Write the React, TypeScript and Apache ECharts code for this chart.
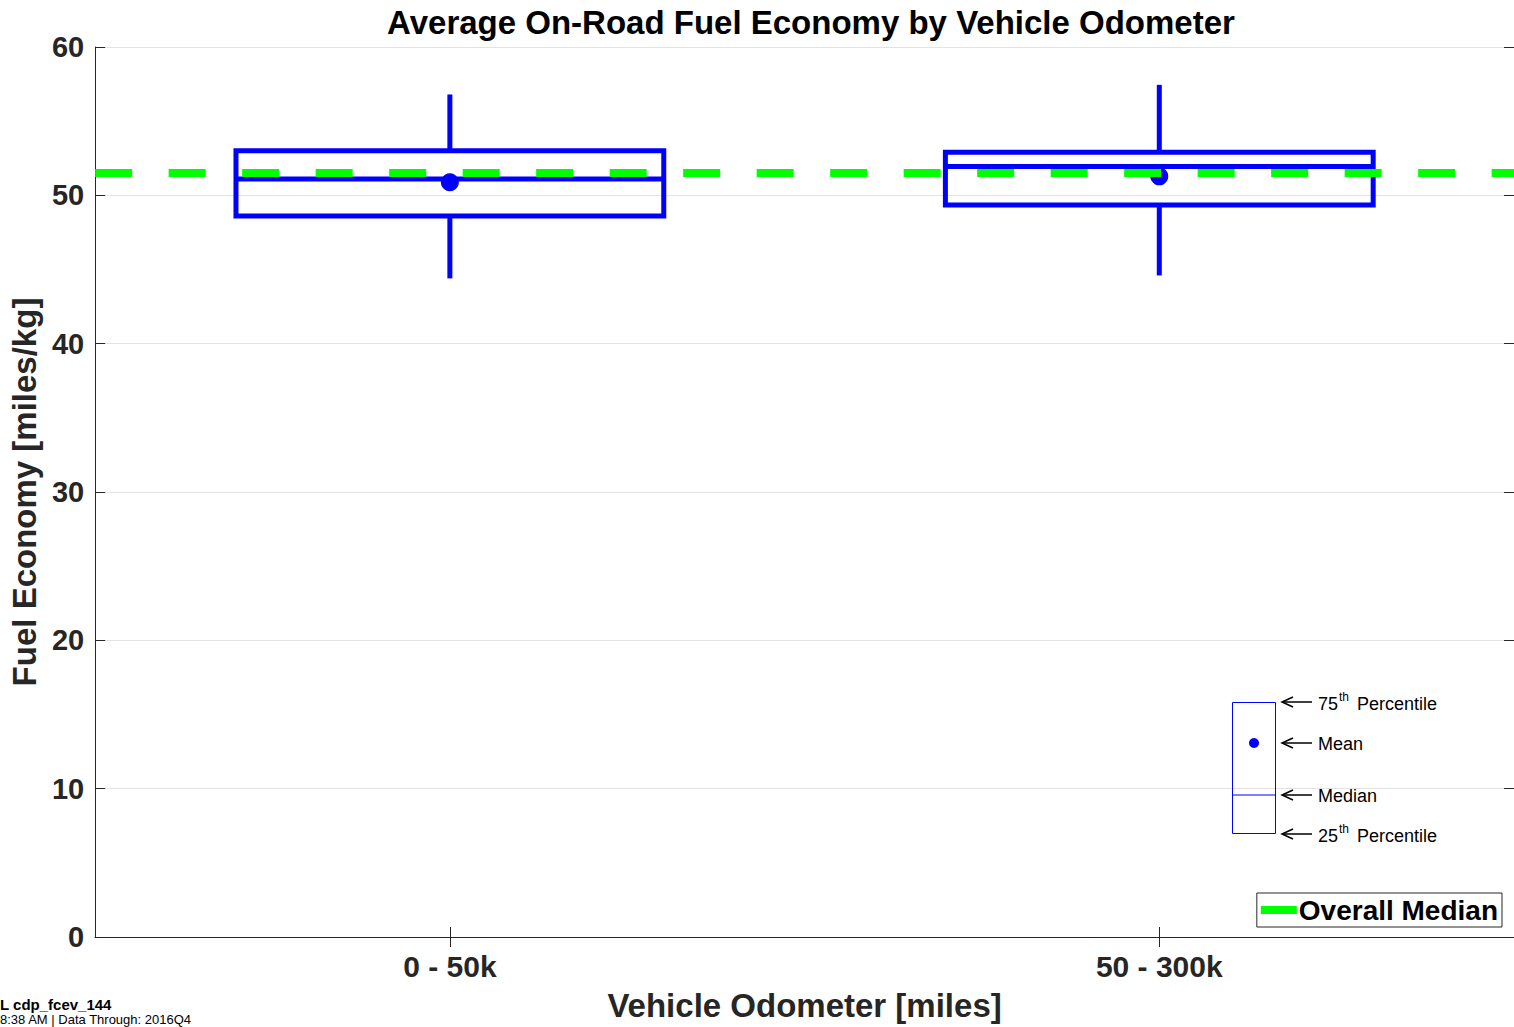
import React, { useEffect, useRef } from "react";
import * as echarts from "echarts";

const categories = ["0 - 50k", "50 - 300k"];
const whiskerLow = [44.4, 44.6];
const q1 = [48.6, 49.35];
const median = [51.1, 51.95];
const q3 = [53.0, 52.9];
const whiskerHigh = [56.8, 57.45];
const means = [50.88, 51.28];
const overallMedian = 51.55;
const yTicks = { min: 0, max: 60, interval: 10 };

const FONT = "'Liberation Sans', Arial, Helvetica, sans-serif";
const BLUE = "#0000ff";
const GREEN = "#00ff00";
const AXIS = "#262626";

export default function App() {
  const ref = useRef<HTMLDivElement>(null);
  useEffect(() => {
    if (!ref.current) return;
    const chart = echarts.init(ref.current, undefined, { renderer: "svg" });

    const boxData = categories.map((_, i) => [i, whiskerLow[i], q1[i], median[i], q3[i], whiskerHigh[i]]);
    const meanData = categories.map((_, i) => [i, means[i]]);

    const keyTexts = [
      { y: 704, main: "75", sup: "th", rest: "Percentile" },
      { y: 744, main: "Mean" },
      { y: 796, main: "Median" },
      { y: 836, main: "25", sup: "th", rest: "Percentile" },
    ];
    const arrowYs = [702, 743, 795, 834];

    const graphics: any[] = [
      { type: "rect", shape: { x: 1232.5, y: 702.5, width: 43, height: 131 }, style: { fill: "none", stroke: BLUE, lineWidth: 1 }, z: 10 },
      { type: "line", shape: { x1: 1232.5, y1: 795, x2: 1275.5, y2: 795 }, style: { stroke: BLUE, lineWidth: 1 }, z: 10 },
      { type: "circle", shape: { cx: 1254, cy: 743, r: 5 }, style: { fill: BLUE }, z: 10 },
    ];
    arrowYs.forEach((y) => {
      graphics.push({ type: "line", shape: { x1: 1283, y1: y, x2: 1312, y2: y }, style: { stroke: "#000", lineWidth: 1.5 }, z: 10 });
      graphics.push({ type: "polyline", shape: { points: [[1293, y - 5], [1282, y], [1293, y + 5]] }, style: { stroke: "#000", lineWidth: 1.5, fill: "none" }, z: 10 });
    });
    keyTexts.forEach((t) => {
      graphics.push({ type: "text", x: 1318, y: t.y, style: { text: t.main, font: `18px ${FONT}`, fill: "#000", verticalAlign: "middle" }, z: 10 });
      if (t.sup) {
        graphics.push({ type: "text", x: 1339, y: t.y - 7, style: { text: t.sup, font: `12px ${FONT}`, fill: "#000", verticalAlign: "middle" }, z: 10 });
        graphics.push({ type: "text", x: 1357, y: t.y, style: { text: t.rest, font: `18px ${FONT}`, fill: "#000", verticalAlign: "middle" }, z: 10 });
      }
    });
    graphics.push({ type: "text", x: 0, y: 997, style: { text: "L cdp_fcev_144", font: `bold 15px ${FONT}`, fill: "#000" } });
    graphics.push({ type: "text", x: 0, y: 1013, style: { text: "8:38 AM | Data Through: 2016Q4", font: `13px ${FONT}`, fill: "#000" } });

    const option: any = {
      animation: false,
      backgroundColor: "#ffffff",
      title: {
        text: "Average On-Road Fuel Economy by Vehicle Odometer",
        left: 806,
        top: 1,
        textAlign: "center",
        textStyle: { fontFamily: FONT, fontSize: 33, fontWeight: "bold", color: "#000" },
      },
      grid: { left: 94, top: 47, width: 1424, height: 896, containLabel: false },
      legend: {
        data: [{ name: "Overall Median", icon: "rect" }],
        right: 12,
        top: 893,
        orient: "horizontal",
        itemWidth: 36,
        itemHeight: 8,
        itemGap: 5,
        padding: [3, 4, 3, 4],
        borderColor: AXIS,
        borderWidth: 1,
        backgroundColor: "#fff",
        textStyle: { fontFamily: FONT, fontSize: 28, fontWeight: "bold", color: "#000", padding: [0, 0, 0, -3] },
      },
      xAxis: [
        {
          type: "category",
          data: categories,
          position: "bottom",
          axisLine: { show: true, lineStyle: { color: AXIS, width: 1 } },
          axisTick: { show: true, inside: true, alignWithLabel: true, length: 10, lineStyle: { color: AXIS } },
          axisLabel: { fontFamily: FONT, fontSize: 30, fontWeight: "bold", color: AXIS, margin: 14 },
          splitLine: { show: false },
          name: "Vehicle Odometer [miles]",
          nameLocation: "middle",
          nameGap: 52,
          nameTextStyle: { fontFamily: FONT, fontSize: 33, fontWeight: "bold", color: AXIS },
        },
        {
          type: "category",
          data: categories,
          position: "top",
          axisLine: { show: true, lineStyle: { color: AXIS, width: 1 } },
          axisTick: { show: true, inside: true, alignWithLabel: true, length: 10, lineStyle: { color: AXIS } },
          axisLabel: { show: false },
          splitLine: { show: false },
        },
      ],
      yAxis: [
        {
          type: "value",
          min: yTicks.min,
          max: yTicks.max,
          interval: yTicks.interval,
          position: "left",
          axisLine: { show: true, lineStyle: { color: AXIS, width: 1 } },
          axisTick: { show: true, inside: true, length: 10, lineStyle: { color: AXIS } },
          axisLabel: { fontFamily: FONT, fontSize: 29, fontWeight: "bold", color: AXIS, margin: 11 },
          splitLine: { show: true, lineStyle: { color: "#e3e3e3", width: 1 } },
          name: "Fuel Economy [miles/kg]",
          nameLocation: "middle",
          nameGap: 48,
          nameTextStyle: { fontFamily: FONT, fontSize: 33, fontWeight: "bold", color: AXIS },
        },
        {
          type: "value",
          min: yTicks.min,
          max: yTicks.max,
          interval: yTicks.interval,
          position: "right",
          axisLine: { show: true, lineStyle: { color: AXIS, width: 1 } },
          axisTick: { show: true, inside: true, length: 10, lineStyle: { color: AXIS } },
          axisLabel: { show: false },
          splitLine: { show: false },
        },
      ],
      series: [
        {
          name: "Box",
          type: "custom",
          z: 2,
          data: boxData,
          encode: { x: 0, y: [1, 2, 3, 4, 5] },
          renderItem: (params: any, api: any) => {
            const idx = api.value(0);
            const cx = api.coord([idx, api.value(3)])[0];
            const yLow = api.coord([idx, api.value(1)])[1];
            const yQ1 = api.coord([idx, api.value(2)])[1];
            const yMed = api.coord([idx, api.value(3)])[1];
            const yQ3 = api.coord([idx, api.value(4)])[1];
            const yHigh = api.coord([idx, api.value(5)])[1];
            const bw = api.size([1, 0])[0] * 0.603;
            const st = { stroke: BLUE, lineWidth: 5, fill: "none" };
            return {
              type: "group",
              children: [
                { type: "line", shape: { x1: cx, y1: yQ3, x2: cx, y2: yHigh }, style: st },
                { type: "line", shape: { x1: cx, y1: yQ1, x2: cx, y2: yLow }, style: st },
                { type: "rect", shape: { x: cx - bw / 2, y: yQ3, width: bw, height: yQ1 - yQ3 }, style: st },
                { type: "line", shape: { x1: cx - bw / 2, y1: yMed, x2: cx + bw / 2, y2: yMed }, style: st },
              ],
            };
          },
        },
        {
          name: "Overall Median",
          type: "line",
          z: 3,
          data: [],
          color: GREEN,
          itemStyle: { color: GREEN },
          lineStyle: { color: GREEN, width: 8 },
          markLine: {
            silent: true,
            symbol: ["none", "none"],
            label: { show: false },
            lineStyle: { color: GREEN, width: 8, type: [37, 36.5], cap: "butt" },
            data: [{ yAxis: overallMedian }],
          },
        },
        {
          name: "Mean",
          type: "scatter",
          z: 4,
          data: meanData,
          symbol: "circle",
          symbolSize: 18,
          itemStyle: { color: BLUE, opacity: 1 },
        },
      ],
      graphic: graphics,
    };
    chart.setOption(option);
    return () => chart.dispose();
  }, []);

  return (
    <div
      ref={ref}
      style={{ position: "fixed", left: 0, top: 0, width: 1514, height: 1027, background: "#fff" }}
    />
  );
}
